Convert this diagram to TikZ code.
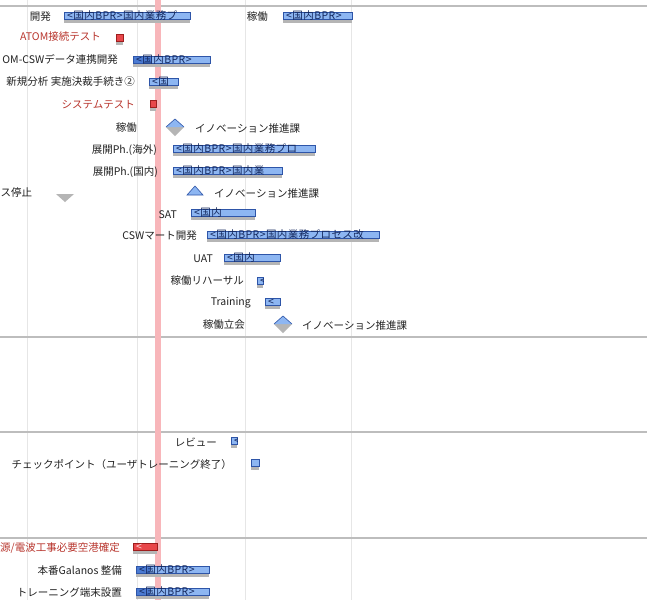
\documentclass[tikz,border=0pt]{standalone}
\usepackage{fontspec}
\setmainfont{Noto Sans CJK JP}
\newfontfamily\barfont[LetterSpace=4]{Noto Sans CJK JP}
\definecolor{barfill}{HTML}{8DB6F2}
\definecolor{barline}{HTML}{2E55A8}
\definecolor{bardark}{HTML}{4B7BD3}
\definecolor{bartext}{HTML}{14285E}
\definecolor{shadowgray}{HTML}{B5B5B5}
\definecolor{gridgray}{HTML}{E6E6E6}
\definecolor{sepgray}{HTML}{BDBDBD}
\definecolor{todaypink}{HTML}{F8B6BA}
\definecolor{redtext}{HTML}{B8352D}
\definecolor{redfill}{HTML}{E8474A}
\definecolor{redline}{HTML}{9E1E1E}
\definecolor{labeltext}{HTML}{222222}
\tikzset{
  lbl/.style={anchor=east, inner sep=0pt, text=labeltext, font=\fontsize{10.5}{12}\selectfont},
  lblw/.style={lbl, anchor=west},
  redlbl/.style={lbl, text=redtext},
  bartxt/.style={anchor=west, inner sep=0pt, text=bartext, font=\barfont\fontsize{10.5}{12}\selectfont},
  barbox/.style={anchor=north west, inner sep=0pt, minimum height=7pt, fill=barfill},
  redbox/.style={anchor=north west, inner sep=0pt, minimum height=7pt, fill=redfill},
  shadowbox/.style={fill=shadowgray},
  sepline/.style={draw=sepgray, line width=1.2pt},
  gridline/.style={draw=gridgray, line width=0.8pt},
}
% \gbar[progress end]{name}{x1}{x2}{ytop}{text}
\newcommand\gbar[6][]{%
  \fill[shadowbox] (#3,#5+3) rectangle (#4,#5+11);
  \node[barbox, minimum width={(#4-#3)*1pt}] (#2) at (#3,#5) {};
  \if\relax\detokenize{#1}\relax\else
    \fill[bardark] (#2.south west) rectangle (#1,#5);
  \fi
  \draw[barline, line width=0.8pt] (#2.south west) rectangle (#2.north east);
  \begin{scope}
    \clip ([yshift=-5pt]#2.south west) rectangle ([yshift=5pt]#2.north east);
    \node[bartxt] (#2t) at (#3+3,#5+4) {#6};
  \end{scope}
}
% \rbar{name}{x1}{x2}{ytop}{text}
\newcommand\rbar[5]{%
  \fill[shadowbox] (#2,#4+3) rectangle (#3,#4+11);
  \node[redbox, minimum width={(#3-#2)*1pt}] (#1) at (#2,#4) {};
  \draw[redline, line width=0.8pt] (#1.south west) rectangle (#1.north east);
  \begin{scope}
    \clip ([yshift=-5pt]#1.south west) rectangle ([yshift=5pt]#1.north east);
    \node[bartxt, text=white!85!red] (#1t) at (#2+3,#4+4) {#5};
  \end{scope}
}
% \mdia{x}{y}
\newcommand\mdia[2]{%
  \fill[shadowgray] (#1-9,#2) -- (#1+9,#2) -- (#1,#2+9) -- cycle;
  \fill[barfill] (#1-9,#2) -- (#1,#2-8) -- (#1+9,#2) -- cycle;
  \draw[barline, line width=0.6pt] (#1-9,#2) -- (#1,#2-8) -- (#1+9,#2);
}
\begin{document}
\begin{tikzpicture}[x=1pt, y=-1pt]
\useasboundingbox (0,0) rectangle (647,600);
\fill[white] (0,0) rectangle (647,600);
% grid
\foreach \gx in {27,137,245,351} { \draw[gridline] (\gx,0) -- (\gx,600); }
% separators
\foreach \sy in {6,337,432,538} { \draw[sepline] (0,\sy) -- (647,\sy); }
% today band
\fill[todaypink] (155,0) rectangle (161,600);

% rows
\node[lbl] (l1) at (51,17) {開発};
\gbar{b1}{64}{190}{12}{<国内BPR>国内業務プ}
\node[lbl] (l2) at (268,17) {稼働};
\gbar{b2}{283}{352}{12}{<国内BPR>}

\node[redlbl] (l3) at (101,37) {ATOM接続テスト};
\rbar{b3}{116}{123}{34}{}

\node[lbl] (l4) at (118,59) {OM-CSWデータ連携開発};
\gbar[152]{b4}{133}{210}{56}{<国内BPR>}

\node[lbl] (l5) at (135,82) {新規分析 実施決裁手続き②};
\gbar{b5}{149}{178}{78}{<国}

\node[redlbl] (l6) at (135,105) {システムテスト};
\rbar{b6}{150}{156}{100}{}

\node[lbl] (l7) at (137,128) {稼働};
\mdia{175}{127}
\node[lblw] (l7b) at (195,128) {イノベーション推進課};

\node[lbl] (l8) at (157,150) {展開Ph.(海外)};
\gbar{b8}{173}{315}{145}{<国内BPR>国内業務プロ}

\node[lbl] (l9) at (158,172) {展開Ph.(国内)};
\gbar{b9}{173}{282}{167}{<国内BPR>国内業}

\node[lbl, anchor=west] (l10) at (0.5,193) {ス停止};
\fill[shadowgray] (56,194) -- (74,194) -- (65,202) -- cycle;

\fill[barfill, draw=barline, line width=0.6pt] (187,195) -- (195,186) -- (203,195) -- cycle;
\node[lblw] (l11) at (214,193) {イノベーション推進課};

\node[lbl] (l12) at (177,215) {SAT};
\gbar{b12}{191}{255}{209}{<国内}

\node[lbl] (l13) at (197,236) {CSWマート開発};
\gbar{b13}{207}{379}{231}{<国内BPR>国内業務プロセス改}

\node[lbl] (l14) at (213,259) {UAT};
\gbar{b14}{224}{280}{254}{<国内}

\node[lbl] (l15) at (244,281) {稼働リハーサル};
\gbar{b15}{257}{263}{277}{<}

\node[lbl] (l16) at (251,303) {Training};
\gbar{b16}{265}{280}{298}{<}

\node[lbl] (l17) at (245,325) {稼働立会};
\mdia{283}{324}
\node[lblw] (l17b) at (302,325) {イノベーション推進課};

\node[lbl] (l18) at (217,442) {レビュー};
\gbar{b18}{231}{237}{437}{<}

\node[lbl] (l19) at (232,464) {チェックポイント（ユーザトレーニング終了）};
\gbar{b19}{251}{259}{459}{}

\node[redlbl, anchor=west] (l20) at (0,548) {源/電波工事必要空港確定};
\rbar{b20}{133}{157}{543}{<}

\node[lbl] (l21) at (122,571) {本番Galanos 整備};
\gbar[150]{b21}{136}{209}{566}{<国内BPR>}

\node[lbl] (l22) at (122,593) {トレーニング端末設置};
\gbar[150]{b22}{136}{209}{588}{<国内BPR>}
\end{tikzpicture}
\end{document}
